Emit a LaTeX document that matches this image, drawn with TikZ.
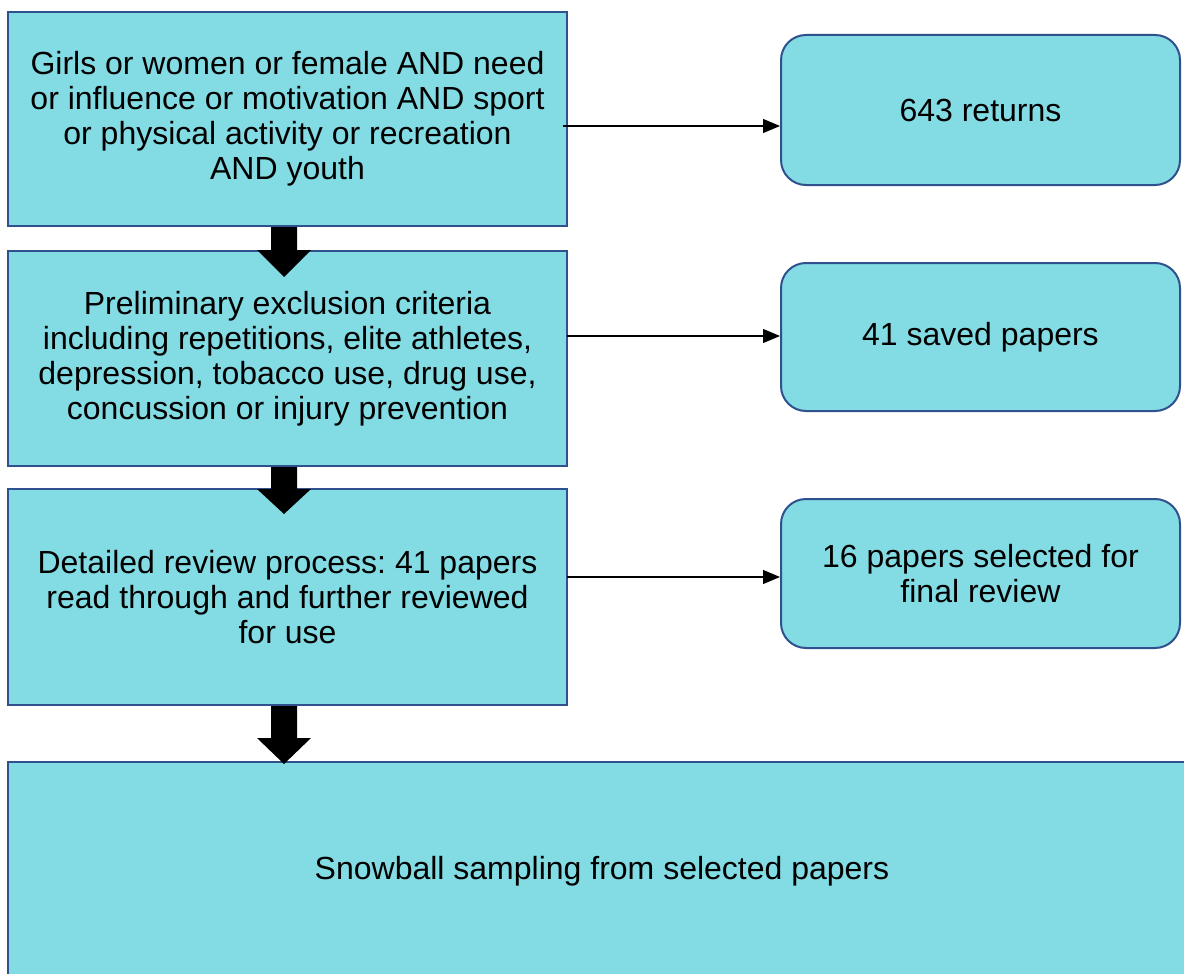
\documentclass[tikz,border=0pt]{standalone}
\usepackage{fontspec}
\setmainfont{Liberation Sans}
\usetikzlibrary{arrows.meta}
\definecolor{boxfill}{RGB}{131,219,228}
\definecolor{boxline}{RGB}{47,82,143}
\newcommand{\blkarrow}[3]{\fill[blockarrow] ([xshift=-3.5pt]#1) ++(-13,0) -- ++(26,0) -- ++(0,#2) -- ++(14,0) -- ++(-27,#3) -- ++(-27,-#3) -- ++(14,0) -- cycle;}
\frenchspacing
\begin{document}
\begin{tikzpicture}[x=1pt,y=-1pt,
  box/.style={draw=boxline, line width=2pt, fill=boxfill, inner sep=0pt, align=center, font=\fontsize{32}{35}\selectfont},
  rbox/.style={box, rounded corners=25pt},
  link/.style={line width=1.2pt, -{Triangle[length=17pt,width=14pt]}},
  blockarrow/.style={fill=black}]
\useasboundingbox (0,0) rectangle (1184,974);
\fill[white] (0,0) rectangle (1184,974);
\clip (0,0) rectangle (1184,974);

\node[box, minimum width=559pt, minimum height=214pt] (b1) at (287.5,119)
  {Girls or women or female AND need\\or influence or motivation AND sport\\or physical activity or recreation\\AND youth};
\node[box, minimum width=559pt, minimum height=215pt] (b2) at (287.5,358.5)
  {Preliminary exclusion criteria\\including repetitions, elite athletes,\\depression, tobacco use, drug use,\\concussion or injury prevention};
\node[box, minimum width=559pt, minimum height=216pt] (b3) at (287.5,597)
  {Detailed review process: 41 papers\\read through and further reviewed\\for use};
\node[box, minimum width=1188pt, minimum height=218pt] (b4) at (602,871)
  {Snowball sampling from selected papers};

\node[rbox, minimum width=399pt, minimum height=150pt] (r1) at (980.5,110) {643 returns};
\node[rbox, minimum width=399pt, minimum height=148pt] (r2) at (980.5,337) {41 saved papers};
\node[rbox, minimum width=399pt, minimum height=149pt] (r3) at (980.5,573.5) {16 papers selected for\\final review};

\blkarrow{b1.south}{23}{27}
\blkarrow{b2.south}{22}{25}
\blkarrow{b3.south}{32}{26}

\coordinate (s1) at (563,126);
\coordinate (s2) at (567,336);
\coordinate (s3) at (567,577);
\draw[link] (s1) -- (s1 -| r1.west);
\draw[link] (s2) -- (s2 -| r2.west);
\draw[link] (s3) -- (s3 -| r3.west);
\end{tikzpicture}
\end{document}
